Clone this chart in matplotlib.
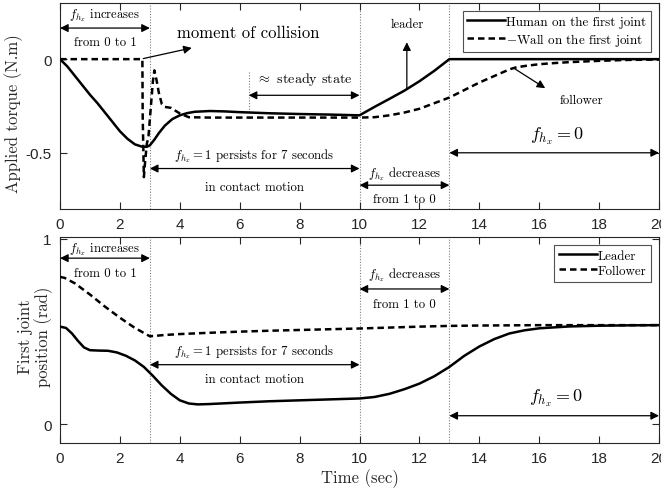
import numpy as np
import matplotlib.pyplot as plt

plt.rcParams['mathtext.fontset'] = 'cm'
plt.rcParams['axes.unicode_minus'] = False
plt.rcParams['axes.formatter.use_mathtext'] = False

# ---- top panel: applied torque ----
t_human = [0, 0.25, 0.5, 0.75, 1.0, 1.25, 1.5, 1.75, 2.0, 2.25, 2.5, 2.75, 2.9, 3.0,
           3.15, 3.3, 3.5, 3.75, 4.0, 4.25, 4.5, 5.0, 5.5, 6, 7, 8, 9, 10,
           10.5, 11, 11.5, 12, 12.5, 13, 20]
torque_human = [0, -0.04, -0.09, -0.14, -0.19, -0.235, -0.285, -0.335, -0.385, -0.425,
                -0.455, -0.468, -0.468, -0.46, -0.43, -0.395, -0.355, -0.32, -0.30,
                -0.288, -0.281, -0.277, -0.279, -0.283, -0.289, -0.293, -0.296, -0.300,
                -0.255, -0.212, -0.168, -0.118, -0.062, 0, 0]

t_wall = [0, 2.75, 2.76, 2.8, 2.84, 2.9, 2.95, 3.0, 3.05, 3.1, 3.15, 3.22, 3.3, 3.4,
          3.5, 3.7, 4.0, 4.3, 5, 6, 7, 8, 9, 10, 10.5, 11, 11.5, 12, 12.5, 13,
          13.5, 14, 14.5, 15, 15.2, 15.5, 16, 16.5, 17, 18, 19, 20]
torque_wall = [0, 0, -0.3, -0.63, -0.55, -0.45, -0.42, -0.32, -0.22, -0.12, -0.06,
               -0.11, -0.18, -0.24, -0.255, -0.26, -0.29, -0.31, -0.312, -0.312,
               -0.312, -0.312, -0.312, -0.312, -0.31, -0.30, -0.285, -0.265, -0.235,
               -0.205, -0.165, -0.125, -0.09, -0.055, -0.045, -0.037, -0.027, -0.021,
               -0.016, -0.009, -0.004, -0.002]

# ---- bottom panel: joint position ----
t_leader = [0, 0.2, 0.4, 0.6, 0.8, 1.0, 1.3, 1.6, 1.9, 2.2, 2.5, 2.8, 3.1, 3.4, 3.7,
            4.0, 4.3, 4.6, 5.0, 6, 7, 8, 9, 10, 10.5, 11, 11.5, 12, 12.5, 13, 13.5,
            14, 14.5, 15, 15.5, 16, 17, 18, 19, 20]
pos_leader = [0.527, 0.52, 0.49, 0.45, 0.415, 0.40, 0.398, 0.397, 0.388, 0.37, 0.345,
              0.31, 0.262, 0.21, 0.165, 0.13, 0.113, 0.108, 0.11, 0.118, 0.125, 0.13,
              0.135, 0.14, 0.148, 0.165, 0.19, 0.22, 0.26, 0.31, 0.37, 0.42, 0.46,
              0.49, 0.507, 0.518, 0.528, 0.532, 0.534, 0.535]

t_follower = [0, 0.15, 0.5, 1.0, 1.5, 2.0, 2.5, 3.0, 3.5, 4, 5, 6, 7, 8, 9, 10, 11,
              12, 13, 14, 15, 16, 18, 20]
pos_follower = [0.795, 0.79, 0.76, 0.70, 0.635, 0.575, 0.52, 0.475, 0.482, 0.487,
                0.494, 0.5, 0.505, 0.509, 0.513, 0.517, 0.522, 0.527, 0.531, 0.533,
                0.534, 0.535, 0.535, 0.535]

phase_times = [3, 10, 13]
xticks = np.arange(0, 21, 2)

SERIF = 'cmr10'
TXT = '0.15'
DASH = (0, (2.6, 1.6))
SMALL = 9.2


def style_axes(ax, yticks, ylabels):
    ax.set_xlim(0, 20)
    ax.set_xticks(xticks)
    ax.set_yticks(yticks)
    ax.set_yticklabels(ylabels)
    ax.tick_params(direction='in', top=True, right=True, length=5, width=0.8,
                   labelsize=11, colors=TXT, pad=6)
    for lab in ax.get_xticklabels() + ax.get_yticklabels():
        lab.set_family('Liberation Sans')
    for s in ax.spines.values():
        s.set_color(TXT)
        s.set_linewidth(0.8)
    for tt in phase_times:
        ax.axvline(tt, color='0.5', ls=(0, (1, 1.5)), lw=0.8, zorder=1)


def darrow(ax, x0, x1, y):
    ax.annotate('', xy=(x1, y), xytext=(x0, y),
                arrowprops=dict(arrowstyle='<|-|>', color='k', lw=0.9,
                                mutation_scale=12, shrinkA=0, shrinkB=0))


def arrow(ax, xy_from, xy_to):
    ax.annotate('', xy=xy_to, xytext=xy_from,
                arrowprops=dict(arrowstyle='-|>', color='k', lw=0.9, mutation_scale=12,
                                shrinkA=0, shrinkB=0))


def txt(ax, x, y, s, size=SMALL, **kw):
    ax.text(x, y, s, fontsize=size, family=SERIF, ha='center', va='center', color='k', **kw)


def add_legend(ax):
    leg = ax.legend(loc='upper right', prop={'family': SERIF, 'size': 9.4}, frameon=True,
                    fancybox=False, edgecolor=TXT, handlelength=2.9, handletextpad=0.1,
                    borderpad=0.35, labelspacing=0.25, borderaxespad=0.6)
    leg.get_frame().set_linewidth(0.8)


fig = plt.figure(figsize=(6.61, 4.89), dpi=100)
ax1 = fig.add_axes([0.0908, 0.5706, 0.9062, 0.4213])
ax2 = fig.add_axes([0.0908, 0.092, 0.9062, 0.4213])

# top panel
ax1.plot(t_human, torque_human, 'k-', lw=1.8, label='Human on the first joint', zorder=3)
ax1.plot(t_wall, torque_wall, 'k', ls=DASH, lw=1.8, label=r'$-$Wall on the first joint', zorder=3)
ax1.set_ylim(-0.8, 0.3)
style_axes(ax1, [-0.5, 0], ['-0.5', '0'])
ax1.set_ylabel('Applied torque (N.m)', family=SERIF, fontsize=12, color=TXT)
ax1.yaxis.set_label_coords(-0.062, 0.47)

darrow(ax1, 0, 3, 0.166)
txt(ax1, 1.5, 0.235, r'$f_{h_x}$ increases')
txt(ax1, 1.5, 0.09, 'from 0 to 1')
arrow(ax1, (2.78, 0.003), (4.4, 0.06))
ax1.text(3.9, 0.145, 'moment of collision', fontsize=12, family=SERIF, va='center')
ax1.plot([6.3, 6.3], [-0.066, -0.28], color='0.5', ls=(0, (1, 1.5)), lw=0.8)
darrow(ax1, 6.3, 10, -0.193)
txt(ax1, 8.15, -0.105, r'$\approx$ steady state', 10.2)
darrow(ax1, 3, 10, -0.584)
txt(ax1, 6.5, -0.51, r'$f_{h_x}=1$ persists for 7 seconds')
txt(ax1, 6.5, -0.68, 'in contact motion')
darrow(ax1, 10, 13, -0.673)
txt(ax1, 11.5, -0.61, r'$f_{h_x}$ decreases')
txt(ax1, 11.5, -0.745, 'from 1 to 0')
darrow(ax1, 13, 20, -0.5)
ax1.text(16.6, -0.405, r'$f_{h_x}=0$', fontsize=13, ha='center', va='center')
arrow(ax1, (11.58, -0.155), (11.58, 0.09))
txt(ax1, 11.58, 0.19, 'leader')
arrow(ax1, (15.15, -0.048), (16.2, -0.155))
txt(ax1, 17.4, -0.218, 'follower')
add_legend(ax1)

# bottom panel
ax2.plot(t_leader, pos_leader, 'k-', lw=1.8, label='Leader', zorder=3)
ax2.plot(t_follower, pos_follower, 'k', ls=DASH, lw=1.8, label='Follower', zorder=3)
ax2.set_ylim(-0.1, 1.01)
style_axes(ax2, [0, 1], ['0', '1'])
ax2.set_ylabel('First joint\nposition (rad)', family=SERIF, fontsize=12, color=TXT,
               linespacing=1.05)
ax2.yaxis.set_label_coords(-0.012, 0.52)
ax2.set_xlabel('Time (sec)', family=SERIF, fontsize=12, color=TXT, labelpad=2)

darrow(ax2, 0, 3, 0.896)
txt(ax2, 1.5, 0.946, r'$f_{h_x}$ increases')
txt(ax2, 1.5, 0.815, 'from 0 to 1')
darrow(ax2, 10, 13, 0.73)
txt(ax2, 11.5, 0.811, r'$f_{h_x}$ decreases')
txt(ax2, 11.5, 0.649, 'from 1 to 0')
darrow(ax2, 3, 10, 0.322)
txt(ax2, 6.5, 0.397, r'$f_{h_x}=1$ persists for 7 seconds')
txt(ax2, 6.5, 0.245, 'in contact motion')
darrow(ax2, 13, 20, 0.047)
ax2.text(16.55, 0.146, r'$f_{h_x}=0$', fontsize=13, ha='center', va='center')
add_legend(ax2)

fig.savefig('out.png', dpi=100)
